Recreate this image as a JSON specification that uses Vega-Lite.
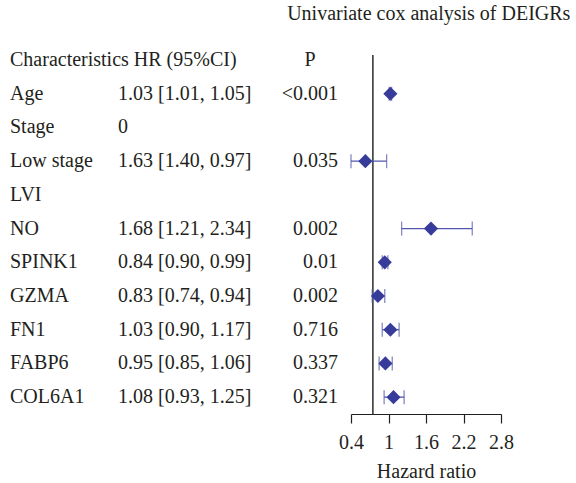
{
  "$schema": "https://vega.github.io/schema/vega-lite/v6.json",
  "background": "white",
  "padding": {"left": 10, "top": 4, "right": 0, "bottom": 0},
  "config": {
    "view": {"stroke": null},
    "text": {"font": "Liberation Serif", "fontSize": 20, "color": "#231f20", "baseline": "middle"},
    "title": {"font": "Liberation Serif", "fontSize": 20, "fontWeight": "normal", "color": "#231f20"}
  },
  "title": {"text": "Univariate cox analysis of DEIGRs", "anchor": "middle", "dx": 167, "offset": 26},
  "data": {
    "values": [
      {"row": 0, "name": "Characteristics HR (95%CI)", "p": "P"},
      {"row": 1, "name": "Age", "hrci": "1.03 [1.01, 1.05]", "p": "<0.001", "est": 1.03, "lower": 1.01, "upper": 1.05},
      {"row": 2, "name": "Stage", "hrci": "0"},
      {"row": 3, "name": "Low stage", "hrci": "1.63 [1.40, 0.97]", "p": "0.035", "est": 0.63, "lower": 0.4, "upper": 0.97},
      {"row": 4, "name": "LVI"},
      {"row": 5, "name": "NO", "hrci": "1.68 [1.21, 2.34]", "p": "0.002", "est": 1.68, "lower": 1.21, "upper": 2.34},
      {"row": 6, "name": "SPINK1", "hrci": "0.84 [0.90, 0.99]", "p": "0.01", "est": 0.94, "lower": 0.9, "upper": 0.99},
      {"row": 7, "name": "GZMA", "hrci": "0.83 [0.74, 0.94]", "p": "0.002", "est": 0.83, "lower": 0.74, "upper": 0.94},
      {"row": 8, "name": "FN1", "hrci": "1.03 [0.90, 1.17]", "p": "0.716", "est": 1.03, "lower": 0.9, "upper": 1.17},
      {"row": 9, "name": "FABP6", "hrci": "0.95 [0.85, 1.06]", "p": "0.337", "est": 0.95, "lower": 0.85, "upper": 1.06},
      {"row": 10, "name": "COL6A1", "hrci": "1.08 [0.93, 1.25]", "p": "0.321", "est": 1.08, "lower": 0.93, "upper": 1.25}
    ]
  },
  "bounds": "flush",
  "spacing": 13,
  "hconcat": [
    {
      "width": 95, "height": 359,
      "mark": {"type": "text", "align": "left"},
      "encoding": {
        "x": {"value": 0},
        "y": {"field": "row", "type": "quantitative", "scale": {"domain": [-0.15, 10.5], "reverse": true, "nice": false, "zero": false}, "axis": null},
        "text": {"field": "name"}
      }
    },
    {
      "width": 179, "height": 359,
      "transform": [{"filter": "isValid(datum.hrci)"}],
      "mark": {"type": "text", "align": "left"},
      "encoding": {
        "x": {"value": 0},
        "y": {"field": "row", "type": "quantitative", "scale": {"domain": [-0.15, 10.5], "reverse": true, "nice": false, "zero": false}, "axis": null},
        "text": {"field": "hrci"}
      }
    },
    {
      "width": 28, "height": 359,
      "transform": [{"filter": "isValid(datum.p)"}],
      "encoding": {
        "y": {"field": "row", "type": "quantitative", "scale": {"domain": [-0.15, 10.5], "reverse": true, "nice": false, "zero": false}, "axis": null},
        "text": {"field": "p"}
      },
      "layer": [
        {
          "transform": [{"filter": "datum.row > 0"}],
          "mark": {"type": "text", "align": "right"},
          "encoding": {"x": {"value": "width"}}
        },
        {
          "transform": [{"filter": "datum.row === 0"}],
          "mark": {"type": "text", "align": "center"},
          "encoding": {"x": {"value": 0}}
        }
      ]
    },
    {
      "width": 150, "height": 359,
      "encoding": {
        "y": {"field": "row", "type": "quantitative", "scale": {"domain": [-0.15, 10.5], "reverse": true, "nice": false, "zero": false}, "axis": null}
      },
      "layer": [
        {
          "data": {"values": [{"ref": 0.75}]},
          "mark": {"type": "rule", "color": "#3a3a3a", "strokeWidth": 1.6},
          "encoding": {
            "x": {"field": "ref", "type": "quantitative",
              "scale": {"domain": [0.4, 2.8], "nice": false, "zero": false},
              "axis": {"values": [0.4, 1, 1.6, 2.2, 2.8], "tickCount": 10, "format": "~g", "title": "Hazard ratio", "grid": false,
                "domainColor": "#231f20", "tickColor": "#231f20", "domainWidth": 1.2, "tickWidth": 1.2, "tickSize": 9,
                "labelFont": "Liberation Serif", "labelFontSize": 20, "labelColor": "#231f20", "labelPadding": 9,
                "labelFlush": false, "labelOverlap": false,
                "titleFont": "Liberation Serif", "titleFontSize": 20, "titleFontWeight": "normal", "titleColor": "#231f20", "titlePadding": 9}
            },
            "y": null
          }
        },
        {
          "transform": [{"filter": "isValid(datum.est)"}],
          "mark": {"type": "rule", "color": "#5356ad", "strokeWidth": 1.3},
          "encoding": {"x": {"field": "lower", "type": "quantitative"}, "x2": {"field": "upper"}}
        },
        {
          "transform": [{"filter": "isValid(datum.est)"}],
          "mark": {"type": "tick", "orient": "vertical", "color": "#5356ad", "size": 14, "thickness": 1.3},
          "encoding": {"x": {"field": "lower", "type": "quantitative"}}
        },
        {
          "transform": [{"filter": "isValid(datum.est)"}],
          "mark": {"type": "tick", "orient": "vertical", "color": "#5356ad", "size": 14, "thickness": 1.3},
          "encoding": {"x": {"field": "upper", "type": "quantitative"}}
        },
        {
          "transform": [{"filter": "isValid(datum.est)"}],
          "mark": {"type": "point", "shape": "diamond", "filled": true, "size": 200, "color": "#373c9b", "opacity": 1},
          "encoding": {"x": {"field": "est", "type": "quantitative"}}
        }
      ]
    }
  ]
}
